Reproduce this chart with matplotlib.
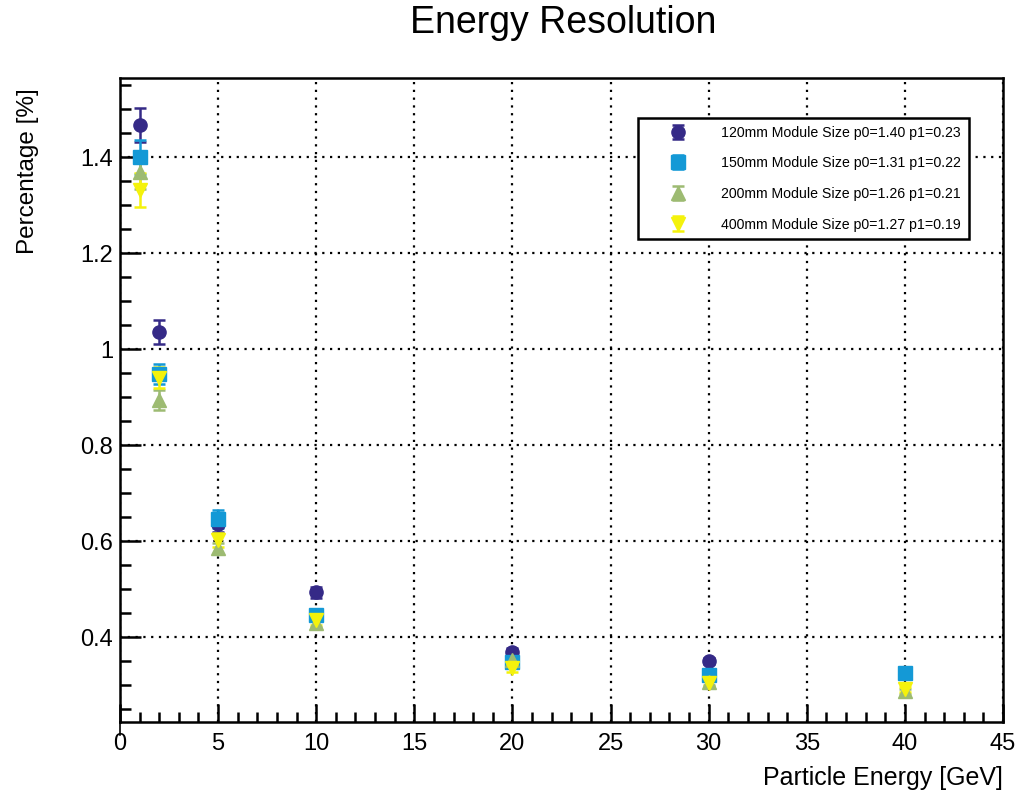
import matplotlib
matplotlib.use("Agg")
import matplotlib.pyplot as plt
from matplotlib.ticker import MultipleLocator, FuncFormatter
from matplotlib.lines import Line2D

plt.rcParams['font.family'] = ['Liberation Sans', 'DejaVu Sans']

# Beam energies [GeV]
energy = [1, 2, 5, 10, 20, 30, 40]

# Resolution per module size
res_120 = [1.467, 1.035, 0.635, 0.493, 0.369, 0.350]
err_120 = [0.035, 0.025, 0.016, 0.012, 0.008, 0.006]
res_150 = [1.400, 0.948, 0.646, 0.445, 0.348, 0.320, 0.326]
err_150 = [0.035, 0.020, 0.018, 0.012, 0.008, 0.006, 0.005]
res_200 = [1.369, 0.894, 0.585, 0.430, 0.352, 0.307, 0.287]
err_200 = [0.035, 0.020, 0.012, 0.010, 0.008, 0.006, 0.005]
res_400 = [1.331, 0.940, 0.602, 0.435, 0.336, 0.304, 0.291]
err_400 = [0.035, 0.022, 0.014, 0.010, 0.008, 0.006, 0.005]

labels = [
    "120mm Module Size p0=1.40 p1=0.23",
    "150mm Module Size p0=1.31 p1=0.22",
    "200mm Module Size p0=1.26 p1=0.21",
    "400mm Module Size p0=1.27 p1=0.19",
]
colors = ["#352a87", "#1499d6", "#9dbb72", "#f4f20c"]
markers = ["o", "s", "^", "v"]

series = [(res_120, err_120), (res_150, err_150), (res_200, err_200), (res_400, err_400)]

fig = plt.figure(figsize=(10.18, 7.96), dpi=100)
ax = fig.add_axes([120 / 1018, 1 - 722 / 796, (1003 - 120) / 1018, (722 - 78) / 796])

for (vals, errs), lab, col, mk in zip(series, labels, colors, markers):
    ax.errorbar(energy[:len(vals)], vals, yerr=errs, fmt=mk, color=col, ecolor=col,
                markersize=9.5, elinewidth=1.8, capsize=4, capthick=1.8, label=lab,
                zorder=3)

ax.set_xlim(0, 45)
ax.set_ylim(0.223, 1.565)

ax.xaxis.set_major_locator(MultipleLocator(5))
ax.xaxis.set_minor_locator(MultipleLocator(1))
ax.yaxis.set_major_locator(MultipleLocator(0.2))
ax.yaxis.set_minor_locator(MultipleLocator(0.05))
ax.yaxis.set_major_formatter(FuncFormatter(lambda v, p: f"{v:g}"))

ax.tick_params(axis='both', which='both', direction='in', width=1.8, color='black',
               top=False, right=False)
ax.tick_params(axis='x', which='major', length=13, labelsize=17, pad=8)
ax.tick_params(axis='x', which='minor', length=7)
ax.tick_params(axis='y', which='major', length=15, labelsize=17, pad=5)
ax.tick_params(axis='y', which='minor', length=8)

for sp in ax.spines.values():
    sp.set_linewidth(1.8)
    sp.set_color('black')

ax.grid(True, which='major', color='black', linestyle=(0, (1, 2.5)), linewidth=1.6)
ax.set_axisbelow(True)

# short stub of the y axis below the origin
ax.add_line(Line2D([0, 0], [0, -0.02], transform=ax.transAxes, color='black',
                   linewidth=1.2, clip_on=False))

leg = ax.legend(loc='upper left', bbox_to_anchor=(638 / 1018, 1 - 118 / 796),
                bbox_transform=fig.transFigure, fontsize=10.2, frameon=True,
                fancybox=False, edgecolor='black', borderpad=0.55,
                labelspacing=1.17, handletextpad=0.7, borderaxespad=0,
                handlelength=4.6)
leg.get_frame().set_linewidth(1.8)
leg.get_frame().set_alpha(1)

fig.text(563 / 1018, 1 - 23 / 796, "Energy Resolution", ha='center', va='center',
         fontsize=27)
fig.text(1003 / 1018, 1 - 778 / 796, "Particle Energy [GeV]", ha='right',
         va='center', fontsize=18)
fig.text(28 / 1018, 1 - 88 / 796, "Percentage [%]", ha='center', va='top',
         rotation=90, fontsize=17.5)

fig.savefig("out.png", dpi=100, facecolor='white')
